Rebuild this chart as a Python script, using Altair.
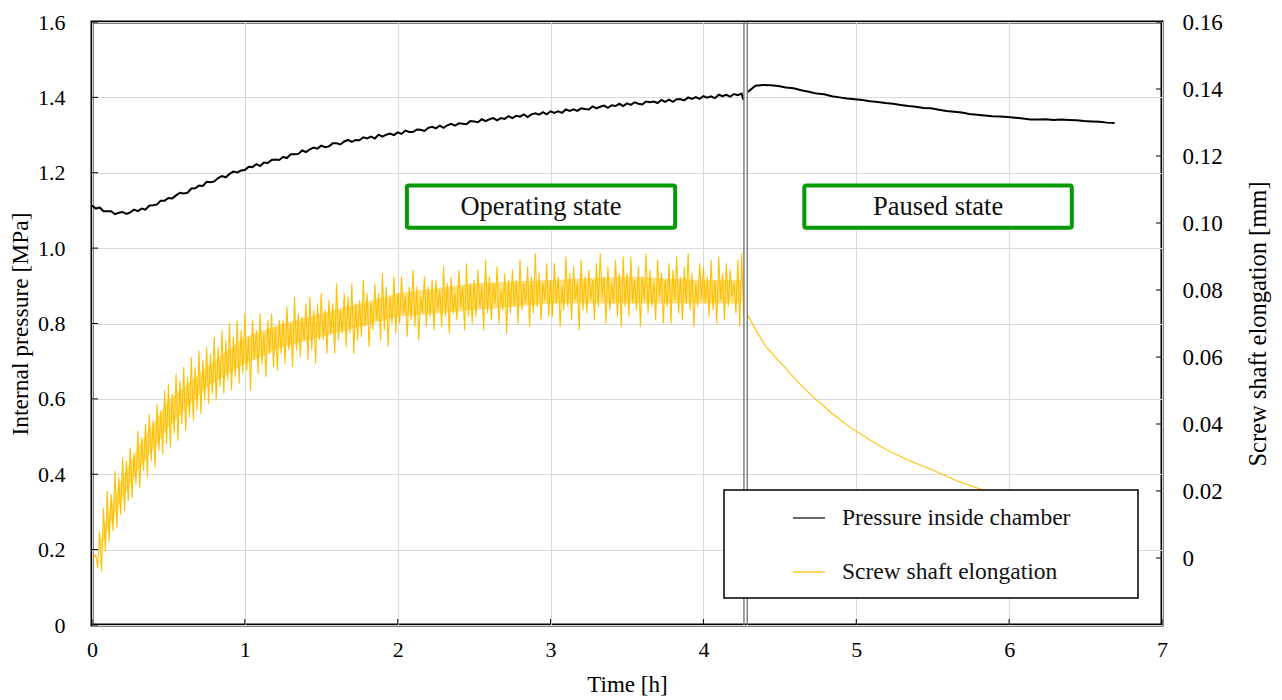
import altair as alt
import numpy as np
import pandas as pd

FONT = "Liberation Serif"

# ---------------- axis ticks ----------------
TIME_TICKS = [0, 1, 2, 3, 4, 5, 6, 7]
PRESSURE_TICKS = [0, 0.2, 0.4, 0.6, 0.8, 1.0, 1.2, 1.4, 1.6]
ELONG_TICKS = [0, 0.02, 0.04, 0.06, 0.08, 0.10, 0.12, 0.14, 0.16]

# ---------------- pressure inside chamber [MPa] ----------------
# operating state, one reading every 0.025 h from 0 h
OP_STEP_H = 0.025
PRESSURE_OP = [
    1.113, 1.105, 1.108, 1.098, 1.098, 1.098, 1.090, 1.094, 1.096, 1.091,
    1.095, 1.102, 1.098, 1.105, 1.102, 1.113, 1.114, 1.116, 1.126, 1.126,
    1.133, 1.132, 1.140, 1.147, 1.145, 1.147, 1.158, 1.159, 1.166, 1.165,
    1.176, 1.175, 1.177, 1.186, 1.191, 1.188, 1.197, 1.203, 1.201, 1.206,
    1.207, 1.216, 1.215, 1.223, 1.218, 1.227, 1.226, 1.234, 1.235, 1.234,
    1.242, 1.239, 1.249, 1.249, 1.250, 1.259, 1.255, 1.262, 1.267, 1.264,
    1.272, 1.268, 1.270, 1.278, 1.278, 1.275, 1.283, 1.287, 1.282, 1.287,
    1.286, 1.294, 1.291, 1.296, 1.291, 1.301, 1.296, 1.301, 1.304, 1.300,
    1.307, 1.303, 1.312, 1.308, 1.308, 1.315, 1.314, 1.311, 1.319, 1.322,
    1.318, 1.325, 1.319, 1.326, 1.330, 1.325, 1.331, 1.330, 1.329, 1.337,
    1.336, 1.334, 1.342, 1.337, 1.342, 1.345, 1.339, 1.345, 1.343, 1.350,
    1.345, 1.351, 1.349, 1.355, 1.348, 1.355, 1.358, 1.354, 1.361, 1.355,
    1.363, 1.359, 1.363, 1.359, 1.368, 1.364, 1.368, 1.364, 1.371, 1.369,
    1.368, 1.376, 1.371, 1.375, 1.378, 1.372, 1.379, 1.377, 1.383, 1.377,
    1.384, 1.380, 1.387, 1.383, 1.381, 1.389, 1.387, 1.389, 1.385, 1.393,
    1.388, 1.394, 1.388, 1.395, 1.395, 1.392, 1.400, 1.396, 1.401, 1.396,
    1.403, 1.399, 1.403, 1.398, 1.407, 1.403, 1.407, 1.402, 1.409, 1.406,
    1.410,
]
PRESSURE_OP_END_T = [4.262]
PRESSURE_OP_END = [1.393]

# paused state
PRESSURE_PAUSE_T = [
    4.29, 4.34, 4.39, 4.44, 4.49, 4.54, 4.59, 4.64, 4.69, 4.74,
    4.79, 4.84, 4.89, 4.94, 4.99, 5.04, 5.09, 5.14, 5.19, 5.24,
    5.29, 5.34, 5.39, 5.44, 5.49, 5.54, 5.59, 5.64, 5.69, 5.74,
    5.79, 5.84, 5.89, 5.94, 5.99, 6.04, 6.09, 6.14, 6.19, 6.24,
    6.29, 6.34, 6.39, 6.44, 6.49, 6.54, 6.59, 6.64, 6.69,
]
PRESSURE_PAUSE = [
    1.414, 1.431, 1.433, 1.432, 1.430, 1.426, 1.424, 1.419, 1.415, 1.410,
    1.408, 1.403, 1.400, 1.397, 1.395, 1.393, 1.390, 1.388, 1.385, 1.383,
    1.380, 1.377, 1.375, 1.372, 1.371, 1.367, 1.364, 1.362, 1.360, 1.356,
    1.354, 1.352, 1.350, 1.349, 1.348, 1.346, 1.344, 1.341, 1.341, 1.342,
    1.340, 1.341, 1.340, 1.339, 1.337, 1.336, 1.335, 1.333, 1.332,
]

# ---------------- screw shaft elongation ----------------
# operating state [µm]: local highs at k*0.025 h, local lows half a step later
ELONG_PEAKS_UM = [
    0, 1, 8, 15, 20, 19, 26, 24, 30, 29,
    33, 31, 38, 36, 40, 43, 41, 46, 44, 50,
    52, 49, 55, 53, 57, 54, 60, 57, 62, 59,
    63, 61, 66, 63, 68, 65, 70, 66, 71, 68,
    73, 66, 71, 68, 73, 67, 71, 73, 69, 71,
    71, 75, 70, 78, 73, 72, 76, 78, 74, 76,
    79, 74, 77, 76, 82, 74, 79, 78, 82, 76,
    77, 83, 79, 76, 82, 79, 85, 81, 78, 84,
    79, 84, 78, 81, 86, 81, 78, 84, 81, 83,
    83, 80, 87, 82, 84, 79, 86, 81, 88, 82,
    83, 86, 81, 89, 84, 82, 87, 80, 85, 83,
    86, 83, 89, 82, 87, 84, 91, 85, 82, 88,
    83, 88, 84, 81, 90, 85, 87, 82, 89, 84,
    86, 83, 88, 91, 84, 87, 82, 89, 85, 90,
    85, 90, 83, 87, 84, 91, 86, 82, 89, 85,
    83, 88, 86, 90, 84, 87, 91, 85, 82, 88,
    87, 84, 89, 83, 90, 85, 88, 86, 82, 89,
    91,
]
ELONG_TROUGHS_UM = [
    0, -3, -4, 2, 5, 8, 9, 13, 14, 17,
    18, 22, 21, 26, 24, 29, 27, 32, 31, 34,
    33, 37, 35, 40, 38, 42, 41, 44, 43, 47,
    46, 49, 47, 51, 49, 53, 50, 54, 52, 55,
    56, 50, 59, 55, 58, 54, 61, 57, 56, 61,
    58, 62, 57, 62, 60, 65, 59, 62, 58, 65,
    65, 61, 67, 61, 65, 67, 63, 67, 61, 65,
    66, 69, 63, 68, 71, 65, 68, 63, 70, 67,
    70, 73, 66, 71, 69, 65, 73, 69, 72, 68,
    74, 69, 72, 67, 73, 71, 75, 68, 72, 70,
    72, 75, 68, 73, 71, 76, 70, 74, 67, 73,
    75, 70, 74, 76, 69, 73, 75, 71, 77, 72,
    72, 76, 69, 74, 75, 71, 77, 68, 74, 73,
    77, 71, 75, 78, 70, 74, 76, 72, 69, 75,
    72, 76, 74, 69, 77, 73, 75, 71, 78, 70,
    75, 70, 77, 73, 71, 76, 74, 69, 75, 77,
    76, 72, 74, 70, 77, 71, 75, 78, 73, 69,
    72,
]
# dense core of the fluctuating band [mm]
ELONG_CORE_T = [0.05, 0.10, 0.20, 0.30, 0.50, 0.75, 1.00, 1.25, 1.50, 2.00, 2.50, 3.00, 3.50, 4.00, 4.25]
ELONG_CORE_LO = [0.002, 0.008, 0.018, 0.026, 0.039, 0.051, 0.058, 0.063, 0.066, 0.072, 0.074, 0.076, 0.076, 0.076, 0.076]
ELONG_CORE_HI = [0.004, 0.013, 0.024, 0.033, 0.047, 0.057, 0.066, 0.070, 0.073, 0.079, 0.082, 0.083, 0.084, 0.083, 0.083]

# paused state [mm]
ELONG_PAUSE_T = [4.29, 4.35, 4.41, 4.48, 4.55, 4.63, 4.72, 4.84, 4.96, 5.08,
                 5.20, 5.35, 5.50, 5.66, 5.83, 6.00, 6.20, 6.40, 6.60, 6.69]
ELONG_PAUSE = [0.0725, 0.0675, 0.0630, 0.0595, 0.0560, 0.0520, 0.0480, 0.0432,
               0.0390, 0.0355, 0.0322, 0.0290, 0.0263, 0.0230, 0.0203, 0.0180,
               0.0155, 0.0130, 0.0110, 0.0100]

# ---------------- annotations ----------------
BREAK_T = [4.265, 4.287]
STATE_LABELS = ["Operating state", "Paused state"]
STATE_T0 = [2.06, 4.66]
STATE_T1 = [3.815, 6.41]
STATE_P_LOW = 1.054
STATE_P_HIGH = 1.166

LEGEND_LABELS = ["Pressure inside chamber", "Screw shaft elongation"]
LEGEND_COLORS = ["#000000", "#FFC000"]

YELLOW = "#FFC000"
GREEN = "#069B06"
GRID = "#d9d9d9"

# ---------------- tables ----------------
op_t = [k * OP_STEP_H for k in range(len(PRESSURE_OP))]
df_p = pd.DataFrame({
    "t": op_t + PRESSURE_OP_END_T + PRESSURE_PAUSE_T,
    "p": PRESSURE_OP + PRESSURE_OP_END + PRESSURE_PAUSE,
    "phase": ["op"] * (len(op_t) + len(PRESSURE_OP_END_T)) + ["pause"] * len(PRESSURE_PAUSE_T),
})

e_t, e_v = [], []
for k, (hi, lo) in enumerate(zip(ELONG_PEAKS_UM, ELONG_TROUGHS_UM)):
    e_t += [k * OP_STEP_H, k * OP_STEP_H + OP_STEP_H / 2]
    e_v += [hi / 1000.0, lo / 1000.0]
df_e = pd.DataFrame({
    "t": e_t + ELONG_PAUSE_T,
    "e": e_v + ELONG_PAUSE,
    "phase": ["op"] * len(e_t) + ["pause"] * len(ELONG_PAUSE_T),
})
df_core = pd.DataFrame({"t": ELONG_CORE_T, "lo": ELONG_CORE_LO, "hi": ELONG_CORE_HI})

df_boxes = pd.DataFrame({
    "label": STATE_LABELS,
    "t0": STATE_T0,
    "t1": STATE_T1,
    "tm": [(a + b) / 2 for a, b in zip(STATE_T0, STATE_T1)],
    "p0": [STATE_P_LOW] * 2,
    "p1": [STATE_P_HIGH] * 2,
    "pm": [(STATE_P_LOW + STATE_P_HIGH) / 2] * 2,
})
df_leg = pd.DataFrame({"label": LEGEND_LABELS, "color": LEGEND_COLORS, "row": [0, 1]})
df_break = pd.DataFrame({"t": BREAK_T})
df_xt = pd.DataFrame({"t": TIME_TICKS})
df_pt = pd.DataFrame({"p": PRESSURE_TICKS})
df_et = pd.DataFrame({"e": ELONG_TICKS})
df_one = pd.DataFrame({"k": [0]})

# ---------------- scales / axes ----------------
x_scale = alt.Scale(domain=[0, 7], nice=False, zero=False)
x_axis = alt.Axis(values=TIME_TICKS, title="Time [h]", grid=True, format="d", labelFlush=False,
                  labelFontSize=22, titleFontSize=23, labelPadding=14, titlePadding=13)
X = alt.X("t:Q", scale=x_scale, axis=x_axis)
p_scale = alt.Scale(domain=[0, 1.6], nice=False, zero=False)
e_scale = alt.Scale(domain=[-0.02, 0.16], nice=False, zero=False)

pressure = alt.Chart(df_p).mark_line(color="black", strokeWidth=2).encode(
    x=X,
    y=alt.Y("p:Q", scale=p_scale, axis=alt.Axis(
        orient="left", values=PRESSURE_TICKS, grid=True, labelFlush=False,
        labelExpr="datum.value == 0 ? '0' : format(datum.value, '.1f')",
        title="Internal pressure [MPa]", labelFontSize=22, titleFontSize=23.5,
        labelPadding=27, titlePadding=5)),
    detail="phase:N",
)

core = alt.Chart(df_core).mark_area(color=YELLOW, opacity=0.5).encode(
    x=X, y=alt.Y("lo:Q", scale=e_scale, axis=None), y2="hi:Q")

elong = alt.Chart(df_e).mark_line(color=YELLOW, strokeWidth=1.1).encode(
    x=X,
    y=alt.Y("e:Q", scale=e_scale, axis=alt.Axis(
        orient="right", values=ELONG_TICKS, grid=False, labelFlush=False,
        labelExpr="datum.value == 0 ? '0' : format(datum.value, '.2f')",
        title="Screw shaft elongation [mm]", labelFontSize=23, titleFontSize=24.5,
        labelPadding=20, titlePadding=24, titleAngle=270, titleBaseline="top")),
    detail="phase:N",
)

left_ticks = alt.Chart(df_pt).mark_rule(color="black", strokeWidth=1).encode(
    y=alt.Y("p:Q", scale=p_scale, axis=None), x=alt.value(0), x2=alt.value(6))
right_ticks = alt.Chart(df_et).mark_rule(color="black", strokeWidth=1).encode(
    y=alt.Y("e:Q", scale=e_scale, axis=None), x=alt.value(1064), x2=alt.value(1070))
bottom_ticks = alt.Chart(df_xt).mark_rule(color="black", strokeWidth=1).encode(
    x=X, y=alt.value(597), y2=alt.value(603))

breaks = alt.Chart(df_break).mark_rule(color="#7a7a7a", strokeWidth=1.4).encode(x=X)

boxes = alt.Chart(df_boxes).mark_rect(fill="white", stroke=GREEN, strokeWidth=4, cornerRadius=2).encode(
    x=alt.X("t0:Q", scale=x_scale, axis=x_axis), x2="t1:Q",
    y=alt.Y("p0:Q", scale=p_scale, axis=None), y2="p1:Q")
box_text = alt.Chart(df_boxes).mark_text(font=FONT, fontSize=26.5, color="#111111", baseline="middle").encode(
    x=alt.X("tm:Q", scale=x_scale, axis=x_axis),
    y=alt.Y("pm:Q", scale=p_scale, axis=None), text="label:N")

leg_box = alt.Chart(df_one).mark_rect(fill="white", stroke="black", strokeWidth=1.5).encode(
    x=alt.value(632), x2=alt.value(1046), y=alt.value(468), y2=alt.value(576))
row_y = alt.Y("row:Q", scale=alt.Scale(domain=[0, 1], range=[496, 550]), axis=None)
leg_lines = alt.Chart(df_leg).mark_rule(strokeWidth=1.2).encode(
    x=alt.value(701), x2=alt.value(733), y=row_y, color=alt.Color("color:N", scale=None))
leg_text = alt.Chart(df_leg).mark_text(font=FONT, fontSize=23.5, align="left", baseline="middle", color="#111111").encode(
    x=alt.value(750), y=row_y, text="label:N")

chart = alt.layer(
    pressure, core, elong, left_ticks, right_ticks, bottom_ticks, breaks,
    boxes, box_text, leg_box, leg_lines, leg_text,
).resolve_scale(y="independent").properties(
    width=1070, height=603,
    autosize=alt.AutoSizeParams(type="none"),
    padding={"left": 84, "top": 14, "right": 112, "bottom": 74},
).configure_view(
    stroke="black", strokeWidth=3,
).configure_axis(
    labelFont=FONT, titleFont=FONT, labelColor="black", titleColor="black",
    titleFontWeight="normal", domain=False, ticks=False, gridColor=GRID, gridWidth=1,
)

chart.save("out.html", embed_options={"renderer": "svg", "actions": False})
